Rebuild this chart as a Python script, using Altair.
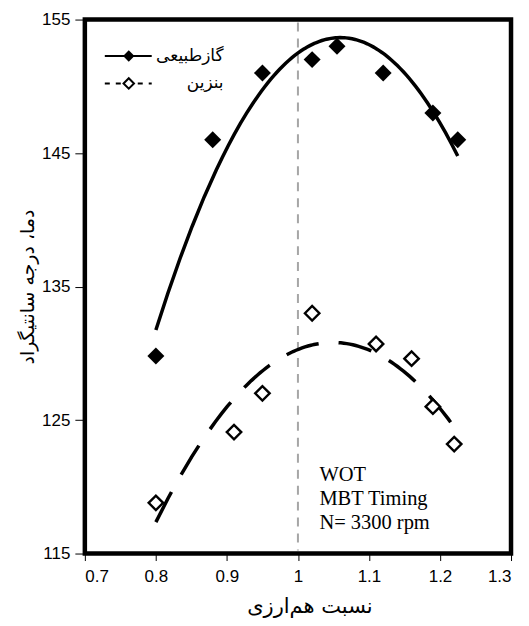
import altair as alt
import pandas as pd

# --- data ---
phi_gas = [0.80, 0.88, 0.95, 1.02, 1.055, 1.12, 1.19, 1.225]
t_gas = [129.8, 146.0, 151.0, 152.0, 153.0, 151.0, 148.0, 146.0]
phi_pet = [0.80, 0.91, 0.95, 1.02, 1.11, 1.16, 1.19, 1.22]
t_pet = [118.8, 124.1, 127.0, 133.0, 130.7, 129.6, 126.0, 123.2]
x_ticks = [0.7, 0.8, 0.9, 1.0, 1.1, 1.2, 1.3]
y_ticks = [115, 125, 135, 145, 155]
series_names = ["گازطبیعی", "بنزین"]
note_lines = ["WOT", "MBT Timing", "N= 3300 rpm"]
stoich = [1.0]

gas = pd.DataFrame({"phi": phi_gas, "T": t_gas})
pet = pd.DataFrame({"phi": phi_pet, "T": t_pet})
one = pd.DataFrame({"k": [0]})

W, H = 427, 535

xs = alt.Scale(domain=[0.7, 1.3], nice=False, zero=False)
ys = alt.Scale(domain=[115, 155], nice=False, zero=False)

x_axis = alt.Axis(values=x_ticks, format="~g", title="نسبت هم‌ارزی",
                  tickSize=7, labelPadding=8, titleX=225, titleY=53,
                  titleBaseline="middle", titleAlign="center", titleFontSize=21)
y_axis = alt.Axis(values=y_ticks, title="دما، درجه سانتیگراد",
                  tickSize=10, labelPadding=5, titleX=-57, titleY=H / 2,
                  titleAngle=-90, titleBaseline="middle", titleAlign="center",
                  titleFontSize=19)

X = alt.X("phi:Q", scale=xs, axis=x_axis)
Y = alt.Y("T:Q", scale=ys, axis=y_axis)

vline = alt.Chart(pd.DataFrame({"phi": stoich})).mark_rule(
    color="#a6a6a6", strokeWidth=2, strokeDash=[9, 7]
).encode(x=X, y=alt.value(3), y2=alt.value(H - 3))

gas_fit = alt.Chart(gas).transform_regression(
    "phi", "T", method="poly", order=2
).mark_line(color="black", strokeWidth=3.5).encode(x=X, y=Y)

pet_fit = alt.Chart(pet).transform_regression(
    "phi", "T", method="poly", order=2
).mark_line(color="black", strokeWidth=3.5, strokeDash=[34, 20]).encode(x=X, y=Y)

gas_pts = alt.Chart(gas).mark_point(
    shape="diamond", filled=True, color="black", size=289, opacity=1
).encode(x=X, y=Y)

pet_pts = alt.Chart(pet).mark_point(
    shape="diamond", filled=True, fill="white", stroke="black", strokeWidth=2.4,
    size=210, opacity=1
).encode(x=X, y=Y)

# legend (drawn inside the plot, upper-left)
ly1, ly2 = 36.5, 64
leg = [
    alt.Chart(one).mark_rule(color="black", strokeWidth=2).encode(
        x=alt.value(20), x2=alt.value(67), y=alt.value(ly1)),
    alt.Chart(one).mark_point(shape="diamond", filled=True, color="black",
                              size=130, opacity=1).encode(
        x=alt.value(44), y=alt.value(ly1)),
    alt.Chart(one).mark_text(align="right", baseline="middle", fontSize=17,
                             font="DejaVu Sans", color="black").encode(
        x=alt.value(139), y=alt.value(ly1), text=alt.value(series_names[0])),
    alt.Chart(one).mark_rule(color="black", strokeWidth=2, strokeDash=[5, 6]).encode(
        x=alt.value(20), x2=alt.value(67), y=alt.value(ly2)),
    alt.Chart(one).mark_point(shape="diamond", filled=True, fill="white",
                              stroke="black", strokeWidth=2, size=110, opacity=1).encode(
        x=alt.value(44), y=alt.value(ly2)),
    alt.Chart(one).mark_text(align="right", baseline="middle", fontSize=17,
                             font="DejaVu Sans", color="black").encode(
        x=alt.value(139), y=alt.value(ly2), text=alt.value(series_names[1])),
]

notes = [
    alt.Chart(one).mark_text(align="left", baseline="alphabetic", fontSize=20.5,
                             font="Liberation Serif", color="black").encode(
        x=alt.value(235), y=alt.value(462.5 + 24 * i), text=alt.value(t))
    for i, t in enumerate(note_lines)
]

chart = alt.layer(vline, gas_fit, pet_fit, gas_pts, pet_pts, *leg, *notes).properties(
    width=W, height=H,
    autosize=alt.AutoSizeParams(type="none"),
    padding={"left": 77, "top": 11, "right": 10, "bottom": 70},
).configure_view(
    stroke="black", strokeWidth=4.5
).configure_axis(
    grid=False, domain=False,
    labelFont="Liberation Sans", labelFontSize=17, labelColor="black",
    tickColor="black", tickWidth=1,
    titleFont="DejaVu Sans", titleFontWeight="normal",
    titleColor="black",
)

chart.save("out.html", embed_options={"renderer": "svg", "actions": False})
